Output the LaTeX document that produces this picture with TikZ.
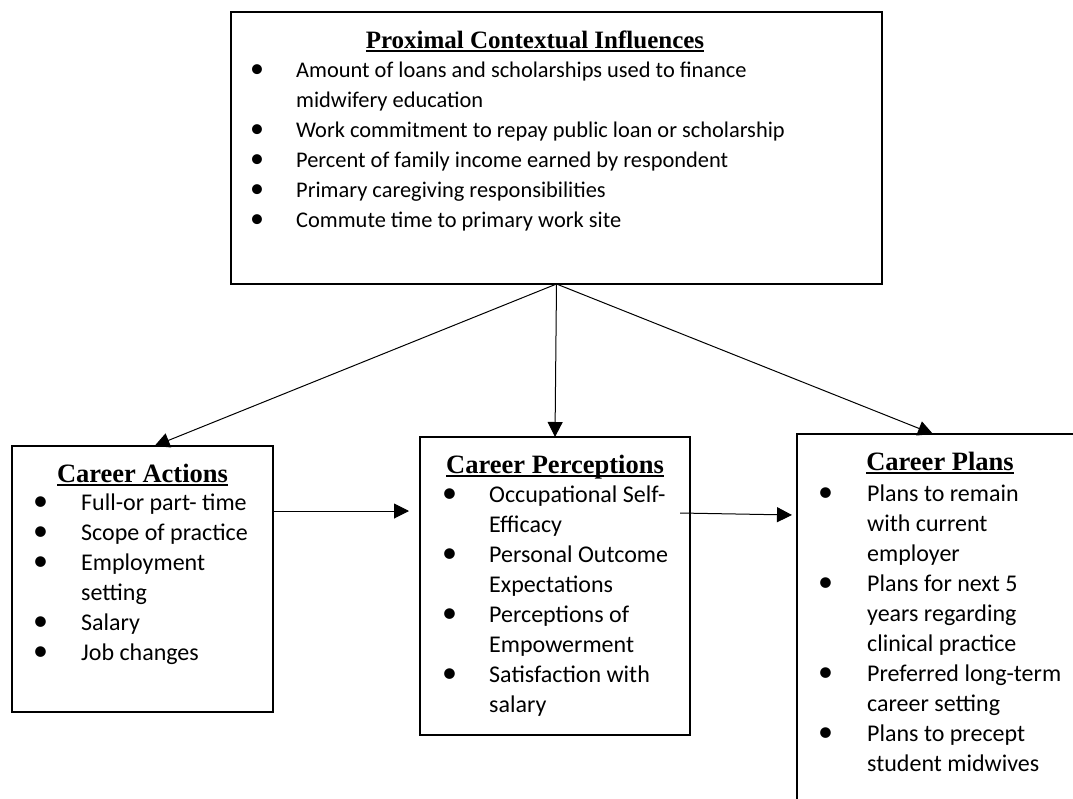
\documentclass[tikz,border=0pt]{standalone}
\usepackage{fontspec}
\setmainfont{Carlito}
\newfontfamily\headfont{Liberation Serif}
\usetikzlibrary{arrows.meta,calc}

% underline drawn at a fixed depth below the baseline
\newcommand\uln[1]{\setbox0\hbox{#1}\rlap{\rule[-4pt]{\wd0}{1.6pt}}\box0}
% bulleted list: bullet column of width #1, lines in #2
\newcommand\bullist[2]{\begin{tabular}[t]{@{}p{#1}@{}l@{}}#2\end{tabular}}
\newcommand\bu{\scalebox{1.25}{\textbullet}}

\tikzset{
  frame/.style={draw, line width=1.6pt, anchor=north west, inner sep=0pt, outer sep=0pt},
  head/.style={font=\headfont\bfseries\fontsize{26.5}{30}\selectfont, anchor=base, inner sep=0pt},
  body/.style={font=\fontsize{24}{30}\selectfont, anchor=base west, inner sep=0pt},
  topbody/.style={body, font=\fontsize{22.4}{30}\selectfont},
  link/.style={-{Triangle[length=15pt,width=15pt]}, line width=1pt},
}

\begin{document}
\begin{tikzpicture}[x=1pt,y=-1pt]
\useasboundingbox (0,0) rectangle (1073,798);
\clip (0,0) rectangle (1073,798);

% boxes
\node[frame, minimum width=651pt, minimum height=272pt] (pci) at (231,12) {};
\node[frame, minimum width=261pt, minimum height=266pt] (ca) at (12,446) {};
\node[frame, minimum width=270pt, minimum height=298pt] (cp) at (420,437) {};
\node[frame, minimum width=300pt, minimum height=420pt] (pl) at (797,434) {};

% top box contents
\node[head, font=\headfont\bfseries\fontsize{25}{30}\selectfont] (pcit) at ($(pci.north west)+(304,36)$) {\uln{Proximal Contextual Influences}};
\node[topbody] (pcil) at ($(pci.north west)+(19,65)$) {\bullist{46pt}{%
  \bu & Amount of loans and scholarships used to finance\\
      & midwifery education\\
  \bu & Work commitment to repay public loan or scholarship\\
  \bu & Percent of family income earned by respondent\\
  \bu & Primary caregiving responsibilities\\
  \bu & Commute time to primary work site}};

% career actions
\node[head] (cat) at ($(ca.north)+(0,36)$) {\uln{Career Actions}};
\node[body] (cal) at ($(ca.north west)+(21,64)$) {\bullist{48pt}{%
  \bu & Full-or part- time\\
  \bu & Scope of practice\\
  \bu & Employment\\
      & setting\\
  \bu & Salary\\
  \bu & Job changes}};

% career perceptions
\node[head] (cpt) at ($(cp.north)+(0,36)$) {\uln{Career Perceptions}};
\node[body] (cpl) at ($(cp.north west)+(22,65)$) {\bullist{47pt}{%
  \bu & Occupational Self-\\
      & Efficacy\\
  \bu & Personal Outcome\\
      & Expectations\\
  \bu & Perceptions of\\
      & Empowerment\\
  \bu & Satisfaction with\\
      & salary}};

% career plans
\node[head] (plt) at ($(pl.north west)+(143,36)$) {\uln{Career Plans}};
\node[body] (pll) at ($(pl.north west)+(21,67)$) {\bullist{49pt}{%
  \bu & Plans to remain\\
      & with current\\
      & employer\\
  \bu & Plans for next 5\\
      & years regarding\\
      & clinical practice\\
  \bu & Preferred long-term\\
      & career setting\\
  \bu & Plans to precept\\
      & student midwives}};

% connectors
\draw[link] (pci.south) -- ($(ca.north)+(12,0)$);
\draw[link] (pci.south) -- (cp.north);
\draw[link] (pci.south) -- ($(pl.north west)+(136,0)$);
\coordinate (a1) at ($(ca.north east)+(0,65)$);
\draw[link, shorten >=11pt] (a1) -- (a1 -| cp.west);
\coordinate (a2) at ($(cp.north east)+(-10,76)$);
\draw[link] (a2) -- ($(pl.north west)+(-5,81)$);
\end{tikzpicture}
\end{document}
